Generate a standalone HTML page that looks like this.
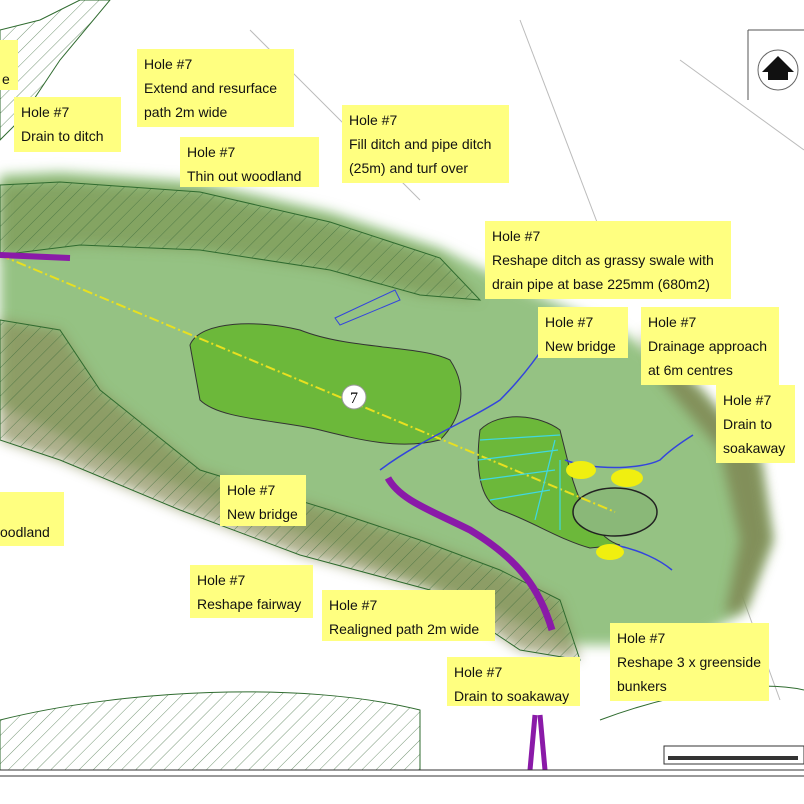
<!DOCTYPE html>
<html><head><style>
body{margin:0;width:804px;height:804px;overflow:hidden;background:#fff;font-family:"Liberation Sans",sans-serif;position:relative}
.l{position:absolute;background:#ffff80;font-size:14px;line-height:24px;padding:3px 7px;box-sizing:border-box;color:#111;white-space:nowrap}
svg{position:absolute;left:0;top:0}
</style></head><body>
<svg width="804" height="804" viewBox="0 0 804 804">
<defs>
<pattern id="h" width="10" height="10" patternUnits="userSpaceOnUse" patternTransform="rotate(45)"><line x1="0" y1="0" x2="0" y2="10" stroke="#3a6a3a" stroke-width="0.7"/></pattern>
<filter id="b"><feGaussianBlur stdDeviation="6"/></filter>
</defs>
<g fill="none" stroke="#bbb" stroke-width="1">
<path d="M250 30 L420 200"/><path d="M520 20 L600 230"/><path d="M680 60 L804 150"/><path d="M700 480 L780 700"/>
</g>
<path d="M0 175 L60 172 L200 182 L330 212 L440 248 L520 288 L620 330 L700 390 L760 460 L772 540 L745 610 L690 645 L570 645 L455 595 L330 545 L200 495 L80 445 L0 405 Z" fill="#95c283" filter="url(#b)"/>
<path d="M0 185 L60 182 L200 192 L330 222 L440 258 L480 300 L420 295 L330 270 L200 250 L80 245 L0 255 Z" fill="#7f9a58" opacity="0.75" filter="url(#b)"/>
<path d="M0 185 L60 182 L200 192 L330 222 L440 258 L480 300 L420 295 L330 270 L200 250 L80 245 L0 255 Z" fill="url(#h)" stroke="#2f6b2f"/>
<path d="M0 320 L60 330 L100 390 L200 470 L330 510 L420 540 L500 570 L560 600 L580 660 L520 650 L430 590 L300 555 L180 510 L60 460 L0 440 Z" fill="#8a8e5a" opacity="0.7" filter="url(#b)"/>
<path d="M0 320 L60 330 L100 390 L200 470 L330 510 L420 540 L500 570 L560 600 L580 660 L520 650 L430 590 L300 555 L180 510 L60 460 L0 440 Z" fill="url(#h)" stroke="#2f6b2f"/>
<path d="M640 330 L700 390 L760 460 L772 540 L745 610 L725 615 L740 540 L720 450 L660 380 Z" fill="#7a7a48" opacity="0.7" filter="url(#b)"/>
<path d="M0 30 L40 20 L80 0 L110 0 L60 60 L20 120 L0 140 Z" fill="url(#h)" stroke="#2f6b2f"/>
<path d="M0 720 C120 690 300 680 420 710 L420 770 L0 770 Z" fill="url(#h)" stroke="#2f6b2f"/>
<path d="M600 720 C680 690 760 680 804 690" fill="none" stroke="#2f6b2f"/>
<path d="M190 345 C200 320 260 320 300 330 C350 350 420 345 450 360 C470 390 460 420 440 440 C400 450 360 440 320 430 C280 420 220 420 200 400 Z" fill="#6cb83a" stroke="#333" stroke-width="1"/>
<path d="M480 430 C500 410 540 415 560 430 L570 470 C580 510 600 540 620 545 L590 548 C560 540 530 520 500 510 C480 500 475 470 480 430 Z" fill="#6cb83a" stroke="#333"/>
<ellipse cx="615" cy="512" rx="42" ry="24" fill="#8ab878" stroke="#222" stroke-width="1.5"/>
<line x1="0" y1="255" x2="615" y2="512" stroke="#e8e020" stroke-width="2" stroke-dasharray="10 3 2 3"/>
<circle cx="354" cy="397" r="12" fill="#fff" stroke="#999"/>
<text x="354" y="403" font-size="16" text-anchor="middle" font-family="Liberation Serif,serif">7</text>
<path d="M0 255 L70 258" stroke="#8a1aa8" stroke-width="6"/>
<path d="M388 478 C400 500 430 510 470 530 C520 560 540 590 552 630" stroke="#8a1aa8" stroke-width="7" fill="none"/>
<path d="M535 715 L530 770 M540 715 L545 770" stroke="#8a1aa8" stroke-width="5"/>
<path d="M380 470 C420 440 470 420 500 400 C520 380 535 360 545 345" stroke="#3344dd" stroke-width="1.5" fill="none"/>
<path d="M335 318 L395 290 L400 300 L340 325 Z" fill="none" stroke="#3344dd"/>
<path d="M565 460 C590 470 640 470 660 460 C670 450 685 440 693 435 M615 545 C640 550 660 560 672 570" stroke="#3344dd" stroke-width="1.5" fill="none"/>
<g stroke="#40d8e0" stroke-width="1.2"><line x1="480" y1="440" x2="560" y2="435"/><line x1="478" y1="460" x2="558" y2="450"/><line x1="480" y1="480" x2="555" y2="470"/><line x1="490" y1="500" x2="550" y2="490"/><line x1="555" y1="440" x2="535" y2="520"/><line x1="560" y1="460" x2="560" y2="530"/></g>
<ellipse cx="581" cy="470" rx="15" ry="9" fill="#f0ef10"/><ellipse cx="627" cy="478" rx="16" ry="9" fill="#f0ef10"/><ellipse cx="610" cy="552" rx="14" ry="8" fill="#f0ef10"/>
<line x1="0" y1="770" x2="804" y2="770" stroke="#333"/><line x1="0" y1="776" x2="804" y2="776" stroke="#333"/>
<line x1="748" y1="30" x2="748" y2="100" stroke="#555"/><line x1="748" y1="30" x2="804" y2="30" stroke="#555"/>
<circle cx="778" cy="70" r="20" fill="#fff" stroke="#666"/><path d="M762 72 L778 56 L794 72 L788 72 L788 80 L768 80 L768 72 Z" fill="#111"/>
<rect x="664" y="746" width="140" height="18" fill="#fff" stroke="#333"/><rect x="668" y="756" width="130" height="4" fill="#333"/>
</svg>
<div class="l" style="left:0;top:40px;width:18px;height:50px;padding:27px 0 0 2px">e</div>
<div class="l" style="left:14px;top:97px;width:107px;height:55px">Hole #7<br>Drain to ditch</div>
<div class="l" style="left:137px;top:49px;width:157px">Hole #7<br>Extend and resurface<br>path 2m wide</div>
<div class="l" style="left:180px;top:137px;width:139px;height:50px">Hole #7<br>Thin out woodland</div>
<div class="l" style="left:342px;top:105px;width:167px">Hole #7<br>Fill ditch and pipe ditch<br>(25m) and turf over</div>
<div class="l" style="left:485px;top:221px;width:246px">Hole #7<br>Reshape ditch as grassy swale with<br>drain pipe at base 225mm (680m2)</div>
<div class="l" style="left:538px;top:307px;width:90px;height:51px">Hole #7<br>New bridge</div>
<div class="l" style="left:641px;top:307px;width:138px">Hole #7<br>Drainage approach<br>at 6m centres</div>
<div class="l" style="left:716px;top:385px;width:79px">Hole #7<br>Drain to<br>soakaway</div>
<div class="l" style="left:0;top:492px;width:64px;height:54px;padding-left:0;padding-top:28px">oodland</div>
<div class="l" style="left:220px;top:475px;width:86px;height:51px">Hole #7<br>New bridge</div>
<div class="l" style="left:190px;top:565px;width:123px;height:53px">Hole #7<br>Reshape fairway</div>
<div class="l" style="left:322px;top:590px;width:173px;height:51px">Hole #7<br>Realigned path 2m wide</div>
<div class="l" style="left:610px;top:623px;width:159px">Hole #7<br>Reshape 3 x greenside<br>bunkers</div>
<div class="l" style="left:447px;top:657px;width:133px;height:49px">Hole #7<br>Drain to soakaway</div>
</body></html>
